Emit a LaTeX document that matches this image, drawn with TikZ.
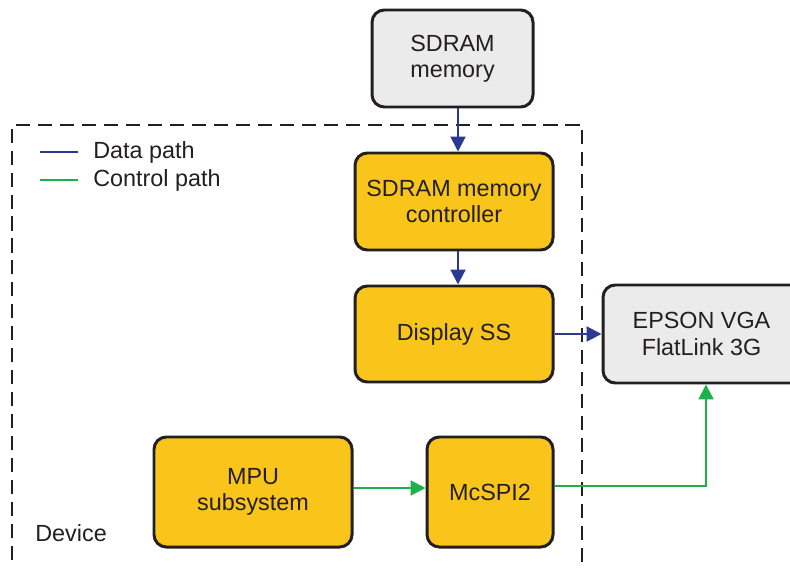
\documentclass[tikz,border=0pt]{standalone}
\usepackage{fontspec}
\setmainfont{Liberation Sans}
\usetikzlibrary{positioning,arrows.meta}
\definecolor{blockyellow}{RGB}{249,197,26}
\definecolor{blockgray}{RGB}{235,235,235}
\definecolor{datablue}{RGB}{43,57,144}
\definecolor{ctrlgreen}{RGB}{29,177,75}
\definecolor{inkgray}{RGB}{35,31,32}

\tikzset{
  block/.style={draw=inkgray, line width=1.7pt, rounded corners=7pt,
    align=center, inner sep=0pt, minimum height=1.94cm, text=inkgray,
    font=\fontsize{13.3}{15}\selectfont},
  socblock/.style={block, fill=blockyellow},
  extblock/.style={block, fill=blockgray},
  datapath/.style={datablue, line width=1.2pt,
    -{Triangle[length=8.5pt,width=8.5pt]}},
  ctrlpath/.style={ctrlgreen, line width=1.2pt,
    -{Triangle[length=8.5pt,width=8.5pt]}},
  lbl/.style={anchor=west, inner sep=0pt, text=inkgray,
    font=\fontsize{13.3}{15}\selectfont}
}

\begin{document}
\begin{tikzpicture}
  \useasboundingbox (0,0) rectangle (15.8,11.34);
  \draw[inkgray, line width=1.2pt, dash pattern=on 8pt off 4.5pt]
    (0.24,-0.3) rectangle (11.64,8.84);

  \node[extblock, minimum width=3.22cm] (mem) at (9.05,10.17) {SDRAM\\memory};
  \node[socblock, minimum width=3.96cm] (ctrl) at (9.08,7.31) {SDRAM memory\\controller};
  \node[socblock, minimum width=3.96cm, minimum height=1.92cm] (disp) at (9.08,4.66) {Display SS};
  \node[extblock, minimum width=4.12cm, minimum height=1.96cm] (epson) at (14.12,4.66) {};
  \node[lbl, anchor=center, align=center] (epsontxt) at (14.03,4.66) {EPSON VGA\\FlatLink 3G};
  \node[socblock, minimum width=3.96cm, minimum height=2.2cm] (mpu) at (5.06,1.50) {MPU\\subsystem};
  \node[socblock, minimum width=2.52cm, minimum height=2.2cm] (spi) at (9.80,1.50) {McSPI2};

  \draw[datapath] ([xshift=1.1mm]mem.south) -- ([xshift=1.1mm]mem.south |- ctrl.north);
  \draw[datapath] ([xshift=0.8mm]ctrl.south) -- ([xshift=0.8mm]ctrl.south |- disp.north);
  \draw[datapath] (disp.east) -- (epson.west);
  \draw[ctrlpath] ([yshift=0.08cm]mpu.east) -- ([yshift=0.08cm]mpu.east -| spi.west);
  \draw[ctrlpath] ([yshift=0.12cm]spi.east) -| (epson.south);

  \coordinate (dataA) at (0.8,8.3);
  \coordinate (dataB) at (1.56,8.3);
  \coordinate (ctrlA) at (0.8,7.74);
  \coordinate (ctrlB) at (1.56,7.74);
  \draw[datablue, line width=1.2pt] (dataA) -- (dataB);
  \draw[ctrlgreen, line width=1.2pt] (ctrlA) -- (ctrlB);
  \node[lbl] (datalbl) at (1.86,8.3) {Data path};
  \node[lbl] (ctrllbl) at (1.86,7.74) {Control path};
  \node[lbl] (devlbl) at (0.7,0.68) {Device};
\end{tikzpicture}
\end{document}
